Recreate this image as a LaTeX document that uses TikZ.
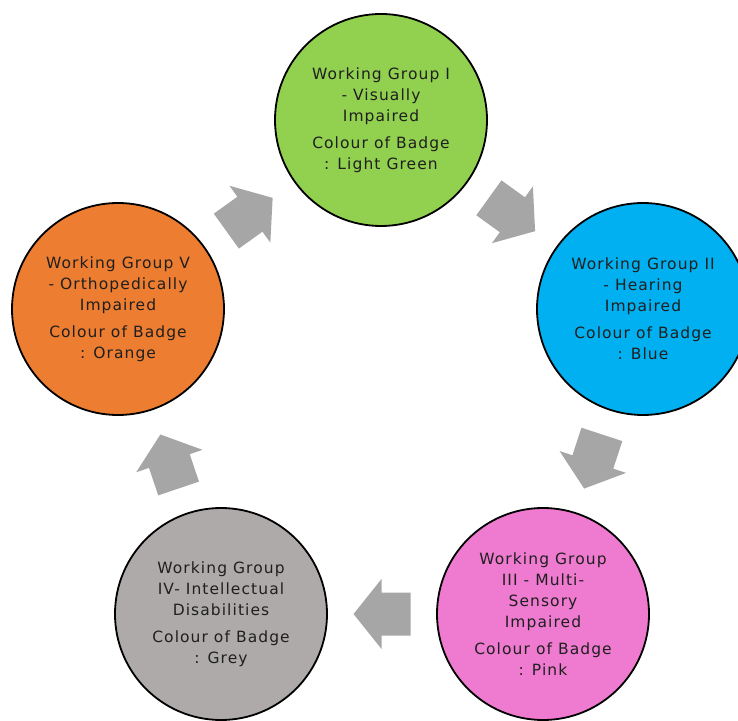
\documentclass[tikz,border=0pt]{standalone}
\usepackage{fontspec}
\setmainfont{DejaVu Sans}[LetterSpace=7]
\usepackage{tikz}
\usetikzlibrary{positioning,calc}
\definecolor{wgreen}{HTML}{92D050}
\definecolor{wblue}{HTML}{00B0F0}
\definecolor{wpink}{HTML}{EE7BD0}
\definecolor{wgrey}{HTML}{AEAAAA}
\definecolor{worange}{HTML}{ED7D31}
\definecolor{agrey}{HTML}{A6A6A6}
\tikzset{
  grp/.style  = {circle, draw=black, line width=1.8pt, minimum size=212pt,
                 inner sep=0pt, align=center, text=black!88,
                 font=\fontsize{15.5}{21}\selectfont},
  cyc/.pic    = {\fill[agrey] (-28.5,21.5) -- (0.5,21.5) -- (0.5,35) -- (28.5,0)
                 -- (0.5,-35) -- (0.5,-21.5) -- (-28.5,-21.5) -- cycle;},
  flow/.style = {sloped, allow upside down},
}

\begin{document}
\begin{tikzpicture}[x=1pt,y=1pt]
  \useasboundingbox (0,0) rectangle (738,720);
  \clip (0,0) rectangle (738,720);
  \node[grp, fill=wgreen] (w1) at (381,600)
    {Working Group I\\ - Visually\\ Impaired\\[6pt] Colour of Badge\\ : Light Green};
  \node[grp, fill=wblue] (w2) at (643,411)
    {Working Group II\\ - Hearing\\ Impaired\\[6pt] Colour of Badge\\ : Blue};
  \node[grp, fill=wpink] (w3) at (543,106)
    {Working Group\\ III - Multi-\\ Sensory\\ Impaired\\[6pt] Colour of Badge\\ : Pink};
  \node[grp, fill=wgrey] (w4) at (221,106)
    {Working Group\\ IV- Intellectual\\ Disabilities\\[6pt] Colour of Badge\\ : Grey};
  \node[grp, fill=worange] (w5) at (118,411)
    {Working Group V\\ - Orthopedically\\ Impaired\\[6pt] Colour of Badge\\ : Orange};
  % cycle arrows
  \path (w5) -- pic[flow]{cyc} (w1);
  \path (w1) -- pic[flow]{cyc} (w2);
  \path (w2) -- pic[flow]{cyc} (w3);
  \path (w3) -- pic[flow]{cyc} (w4);
  \path (w4) -- pic[flow]{cyc} (w5);
\end{tikzpicture}
\end{document}
